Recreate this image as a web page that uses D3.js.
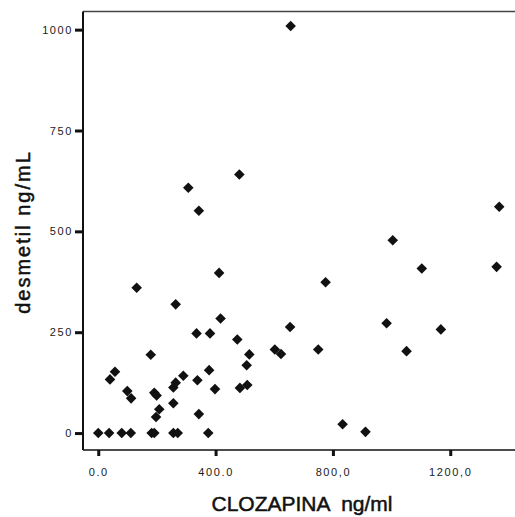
<!DOCTYPE html>
<html>
<head>
<meta charset="utf-8">
<script src="https://cdn.jsdelivr.net/npm/d3@7"></script>
<style>
  body { margin: 0; background: #fff; }
  svg { display: block; font-family: "Liberation Sans", Arial, sans-serif; }
  .tick text { fill: #1a1a1a; font-size: 11px; letter-spacing: 1.6px; }
  .tick line { stroke: #111; stroke-width: 3; }
  .domain { display: none; }
  .titulo { fill: #111; stroke: #111; stroke-width: 0.5px; }
</style>
</head>
<body>
<div id="grafico"></div>
<script>
// datos: clozapina (x) y desmetil (y)
var clozapina = [0, 37, 80, 111, 182, 191, 256, 271, 375,
    40, 57, 99, 112, 131, 179, 191, 199, 208, 197,
    264, 256, 264, 256, 290, 335, 338, 343, 381, 378, 398, 412, 417,
    474, 515, 506, 483, 508, 307, 343, 481,
    656, 1367, 1004, 1103, 1358, 775, 654, 983, 1168, 602, 623, 750, 1051, 833, 911];
var desmetil = [0, 0, 0, 0, 0, 0, 0, 0, 0,
    133, 152, 104, 86, 360, 194, 100, 93, 59, 40,
    319, 113, 125, 74, 142, 247, 131, 47, 247, 156, 109, 397, 284,
    232, 195, 168, 112, 119, 608, 551, 641,
    1009, 561, 478, 408, 412, 374, 263, 272, 257, 207, 196, 207, 203, 22, 3];

var xTicks = [0, 400, 800, 1200];
var xTickLabels = ["0.0", "400.0", "800,0", "1200,0"];
var yTicks = [0, 250, 500, 750, 1000];
var yTickLabels = ["0", "250", "500", "750", "1000"];

var width = 515, height = 517;
var margin = { top: 11.5, right: -3, bottom: 67, left: 83 };
var w = width - margin.left - margin.right;
var h = height - margin.top - margin.bottom;

var svg = d3.select("#grafico").append("svg")
    .attr("width", width)
    .attr("height", height);

var g = svg.append("g")
    .attr("transform", "translate(" + margin.left + "," + margin.top + ")");

var x = d3.scaleLinear().domain([-52, 1431]).range([0, w]);
var y = d3.scaleLinear().domain([-42, 1045]).range([h, 0]);

// marco del grafico
g.append("line").attr("x1", 0).attr("x2", w).attr("y1", 0).attr("y2", 0)
    .attr("stroke", "#444").attr("stroke-width", 1.5);
g.append("line").attr("x1", 0).attr("x2", w).attr("y1", h).attr("y2", h)
    .attr("stroke", "#111").attr("stroke-width", 1.5);
g.append("line").attr("x1", 0).attr("x2", 0).attr("y1", 0).attr("y2", h)
    .attr("stroke", "#111").attr("stroke-width", 2);

// ejes
g.append("g")
    .attr("transform", "translate(0," + h + ")")
    .call(d3.axisBottom(x).tickValues(xTicks).tickSize(6).tickPadding(12)
        .tickFormat(function (d, i) { return xTickLabels[i]; }));

g.append("g")
    .call(d3.axisLeft(y).tickValues(yTicks).tickSize(8).tickPadding(2)
        .tickFormat(function (d, i) { return yTickLabels[i]; }));

// puntos (rombos)
var puntos = clozapina.map(function (v, i) { return { x: v, y: desmetil[i] }; });
g.selectAll(".punto")
    .data(puntos)
    .enter()
    .append("path")
    .attr("class", "punto")
    .attr("d", d3.symbol().type(d3.symbolSquare).size(56))
    .attr("transform", function (d) { return "translate(" + x(d.x) + "," + y(d.y) + ") rotate(45)"; })
    .attr("fill", "#111");

// titulos de los ejes
svg.append("text")
    .attr("class", "titulo")
    .attr("x", 302)
    .attr("y", 511)
    .attr("text-anchor", "middle")
    .style("font-size", "21px")
    .style("word-spacing", "6px")
    .text("CLOZAPINA ng/ml");

svg.append("text")
    .attr("class", "titulo")
    .attr("transform", "translate(30,232) rotate(-90)")
    .attr("text-anchor", "middle")
    .style("font-size", "20px")
    .style("letter-spacing", "2px")
    .text("desmetil ng/mL");
</script>
</body>
</html>
